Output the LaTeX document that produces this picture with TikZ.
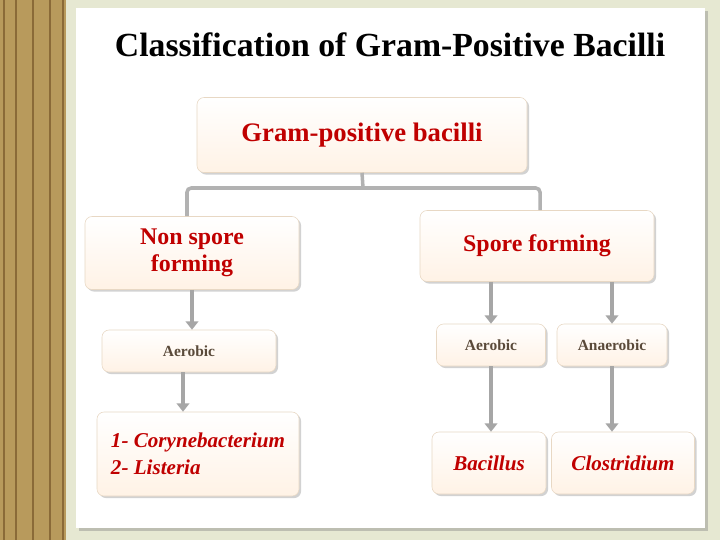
\documentclass[tikz,border=0pt]{standalone}
\usepackage{fontspec}
\setmainfont{Liberation Serif}
\usetikzlibrary{arrows.meta, shadows, positioning}
\definecolor{boxred}{HTML}{C00000}
\definecolor{smalltxt}{HTML}{5A4A3A}
\definecolor{boxedge}{HTML}{E8D8C4}
\definecolor{woodA}{HTML}{B89A5C}
\definecolor{woodB}{HTML}{8A6A38}
\definecolor{backg}{HTML}{E6E8D2}
\tikzset{
  card/.style={draw=boxedge, rounded corners=5pt, top color=white, bottom color=orange!10,
    drop shadow={shadow xshift=1.5pt, shadow yshift=-1.5pt, opacity=0.35}, align=center, inner sep=2pt},
  bigtxt/.style={text=boxred, font=\bfseries\fontsize{17}{19}\selectfont},
  smalltxt/.style={text=smalltxt, font=\bfseries\fontsize{11}{13}\selectfont},
  leaf/.style={text=boxred, font=\bfseries\itshape\fontsize{15}{19}\selectfont},
  grayarrow/.style={draw=gray!70, line width=2.2pt, -{Triangle[length=6pt,width=9pt]}},
  bracket/.style={draw=gray!60, line width=2.5pt}
}
\begin{document}
\begin{tikzpicture}[x=0.025cm, y=-0.025cm]
\useasboundingbox (0,0) rectangle (720,540);
% background and wooden strip
\fill[backg] (0,0) rectangle (720,540);
\fill[woodA] (0,0) rectangle (66,540);
\foreach \xx in {4,16,33,50,63}
  \draw[woodB, line width=1.2pt] (\xx,0) -- (\xx,540);
\fill[white, drop shadow={shadow xshift=2pt, shadow yshift=-2pt, opacity=0.4}] (76,8) rectangle (705,528);
% title
\node[font=\bfseries\fontsize{24}{28}\selectfont] (title) at (390,45) {Classification of Gram-Positive Bacilli};
% bracket
\coordinate (bm) at (363,188);
\coordinate (bl) at (187,188);
\coordinate (br) at (540,188);
\coordinate (lt) at (183,0);
% boxes
\node[card, minimum width=330*0.025cm, minimum height=75*0.025cm, bigtxt, font=\bfseries\fontsize{19}{22}\selectfont] (root) at (362,135) {Gram-positive bacilli};
\node[card, minimum width=214*0.025cm, minimum height=73*0.025cm, bigtxt] (nonspore) at (192,253) {Non spore\\forming};
\node[card, minimum width=234*0.025cm, minimum height=71*0.025cm, bigtxt] (spore) at (537,246) {Spore forming};
\node[card, minimum width=174*0.025cm, minimum height=42*0.025cm, smalltxt] (aero1) at (189,351) {Aerobic};
\node[card, minimum width=109*0.025cm, minimum height=42*0.025cm, smalltxt] (aero2) at (491,345) {Aerobic};
\node[card, minimum width=110*0.025cm, minimum height=42*0.025cm, smalltxt] (anaero) at (612,345) {Anaerobic};
\node[card, minimum width=202*0.025cm, minimum height=84*0.025cm, leaf, align=left] (listnode) at (198,454) {1- Corynebacterium\\2- Listeria};
\node[card, minimum width=114*0.025cm, minimum height=62*0.025cm, leaf] (bacillus) at (489,463) {Bacillus};
\node[card, minimum width=143*0.025cm, minimum height=62*0.025cm, leaf] (clostr) at (623,463) {Clostridium};
% connectors
\draw[bracket] (root.south) -- (bm);
\draw[bracket, rounded corners=3pt] (nonspore.north -| bl) -- (bl) -- (br) -- (spore.north -| br);
\draw[grayarrow] (nonspore.south) -- (aero1.north -| nonspore.south);
\draw[grayarrow] (aero1.south -| lt) -- (listnode.north -| lt);
\draw[grayarrow] (spore.south -| aero2) -- (aero2.north);
\draw[grayarrow] (spore.south -| anaero) -- (anaero.north);
\draw[grayarrow] (aero2.south) -- (bacillus.north -| aero2);
\draw[grayarrow] (anaero.south) -- (clostr.north -| anaero);
\end{tikzpicture}
\end{document}
